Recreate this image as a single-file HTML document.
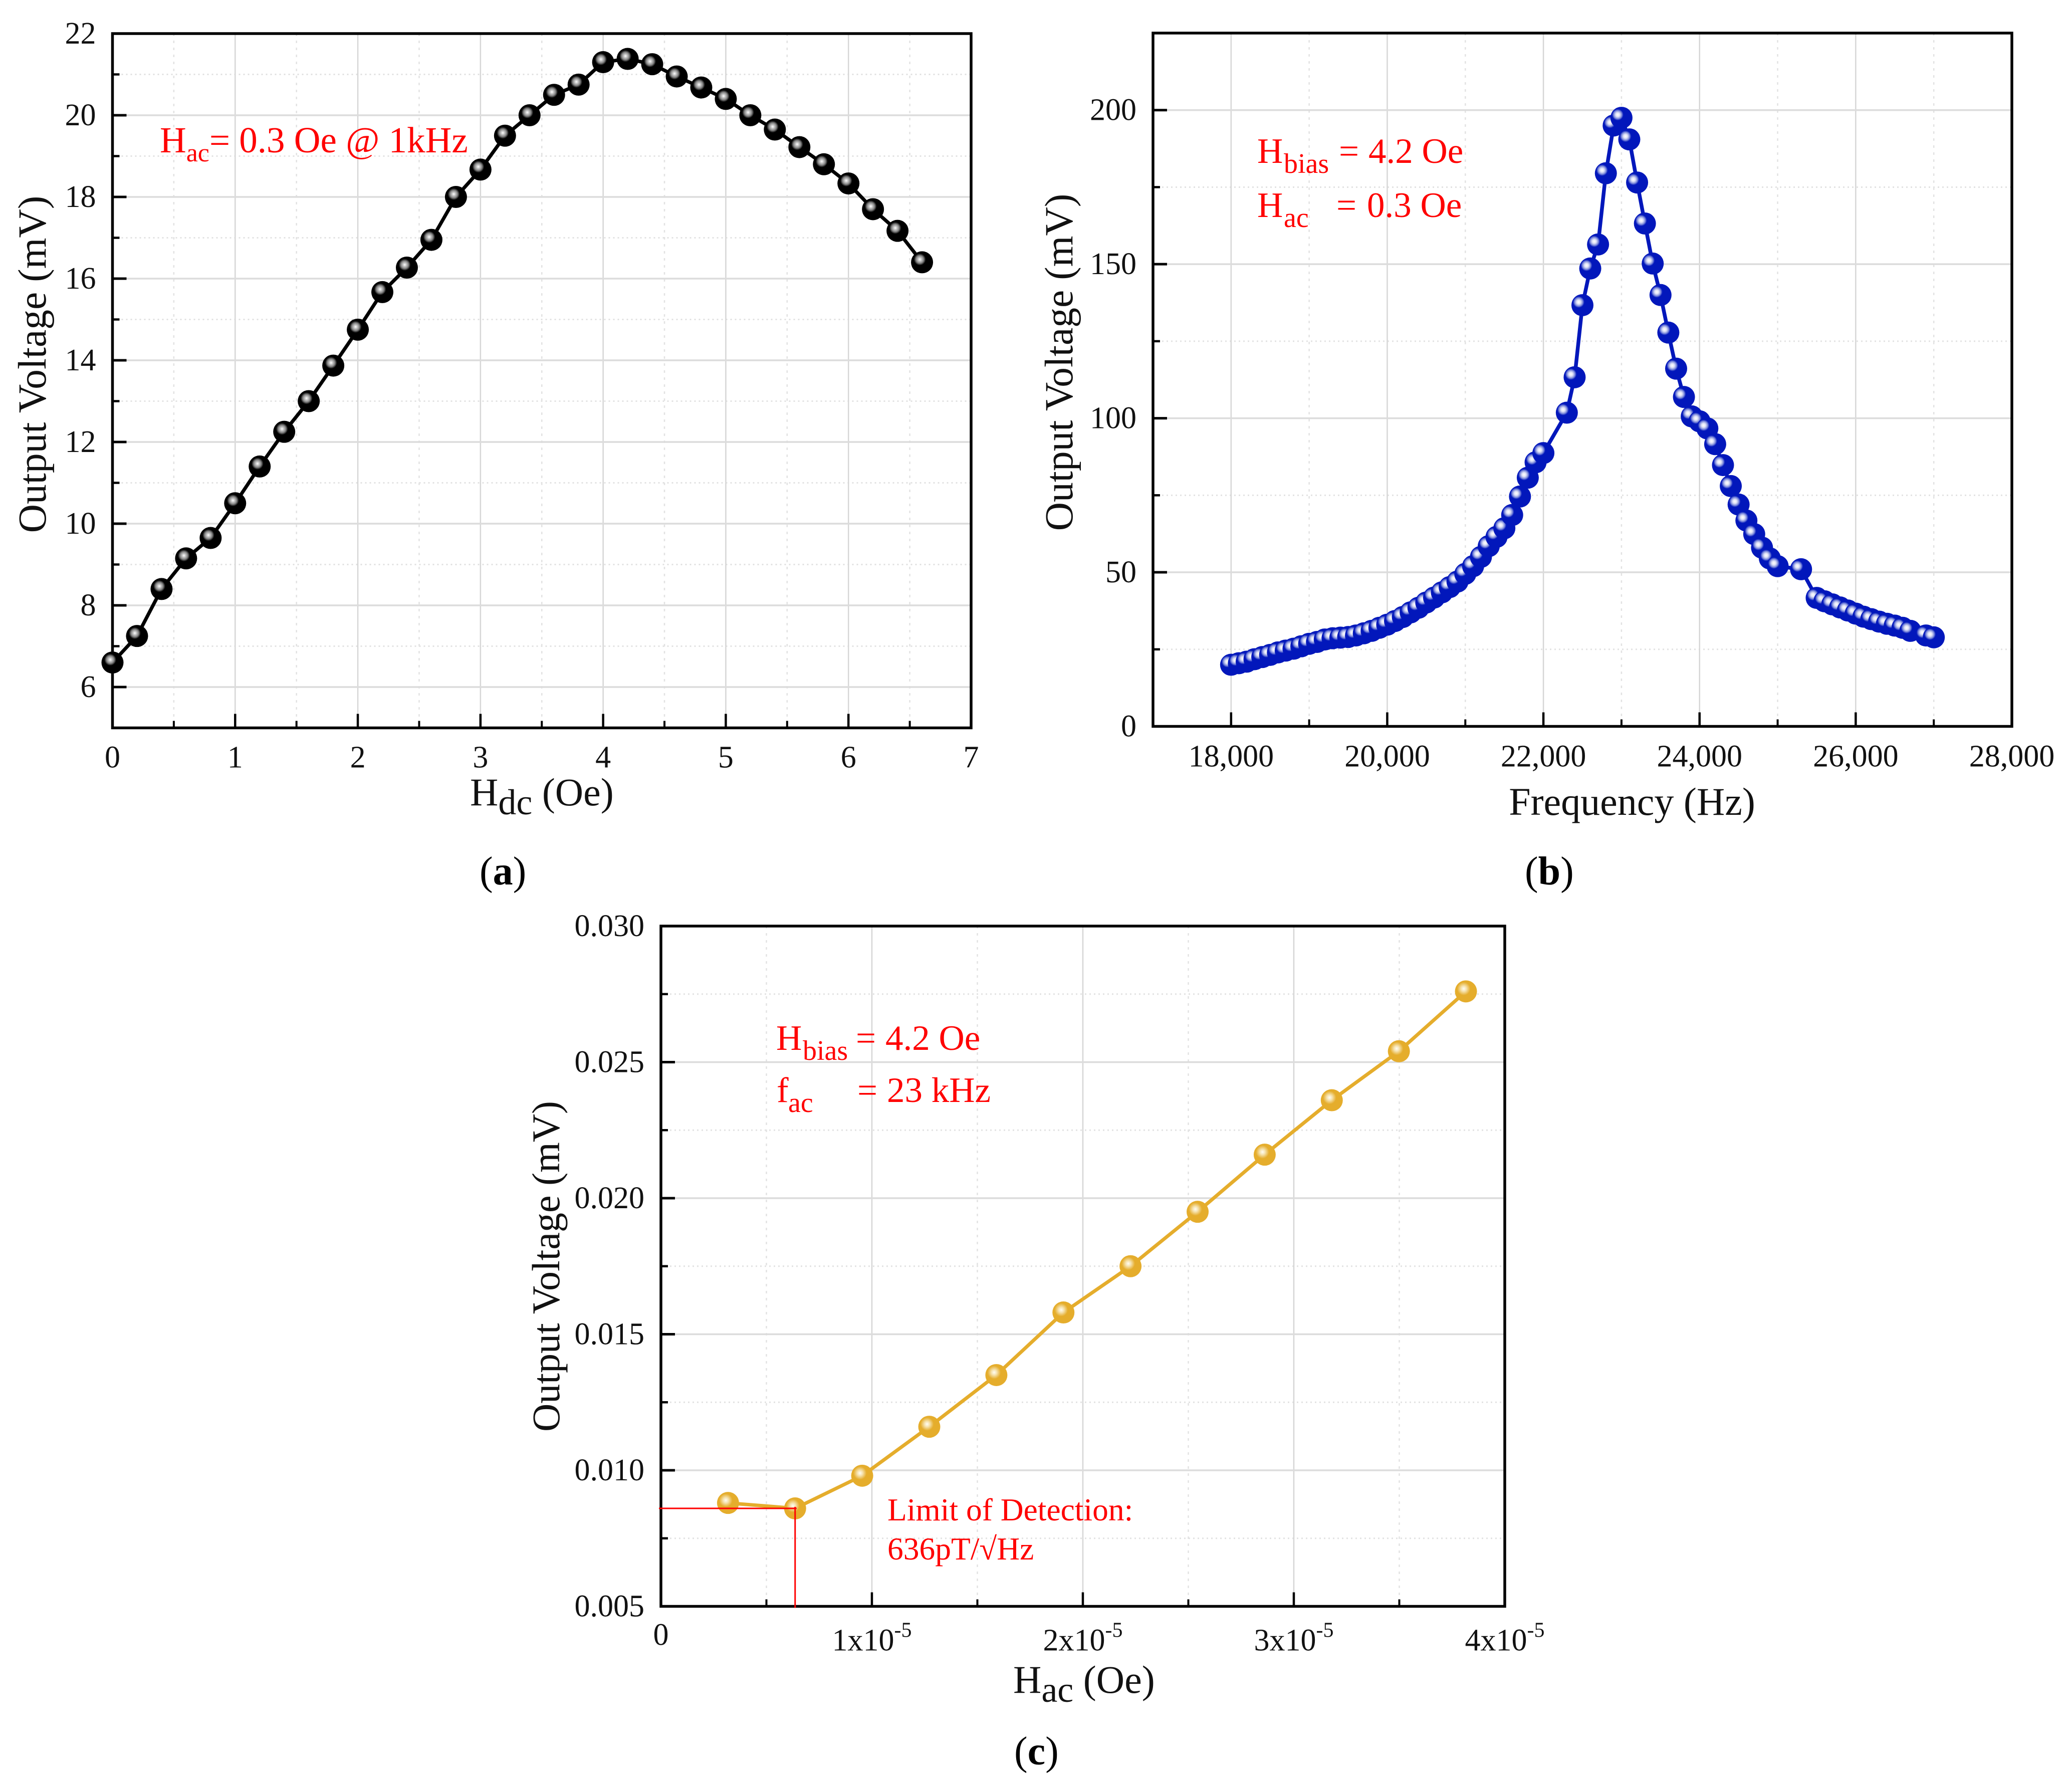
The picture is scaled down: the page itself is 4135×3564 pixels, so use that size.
<!DOCTYPE html>
<html lang="en">
<head>
<meta charset="utf-8">
<title>Output voltage characterisation charts</title>
<style>
html,body{margin:0;padding:0;background:#fff;width:4135px;height:3564px;overflow:hidden}
svg{display:block}
text{font-family:"Liberation Serif","Noto Serif CJK SC",serif}
.title{font-size:78px;fill:#111}
.ytitle{font-size:79.5px;fill:#111}
.sub{font-size:72px}
.note{font-size:71px;fill:#ff0000}
.nsub{font-size:56px}
.plabel{font-size:80px;fill:#000}
</style>
</head>
<body>
<svg id="figure" xmlns="http://www.w3.org/2000/svg" width="4135" height="3564" viewBox="0 0 4135 3564">
  <defs>
    <radialGradient id="ball-black" cx="0.4" cy="0.37" r="0.27">
      <stop offset="0" stop-color="#ffffff"/>
      <stop offset="0.3" stop-color="#c4c4c4"/>
      <stop offset="0.65" stop-color="#808080"/>
      <stop offset="1" stop-color="#000000"/>
    </radialGradient>
    <radialGradient id="ball-blue" cx="0.33" cy="0.36" r="0.26">
      <stop offset="0" stop-color="#ffffff"/>
      <stop offset="0.35" stop-color="#dfe2f6"/>
      <stop offset="0.7" stop-color="#7f8cdc"/>
      <stop offset="1" stop-color="#0217bb"/>
    </radialGradient>
    <radialGradient id="ball-gold" cx="0.4" cy="0.38" r="0.3">
      <stop offset="0" stop-color="#fffdf4"/>
      <stop offset="0.4" stop-color="#f6e3b0"/>
      <stop offset="1" stop-color="#e5ad2c"/>
    </radialGradient>
  </defs>

  <g id="panel-a">
    <g id="a-grid"></g>
    <g id="a-axes"></g>
    <g id="a-marks"></g>
    <text class="ytitle" text-anchor="middle" transform="translate(91 727) rotate(-90)">Output Voltage (mV)</text>
    <text class="title" x="938" y="1607">H<tspan class="sub" dy="18">dc</tspan><tspan dy="-18"> (Oe)</tspan></text>
    <text class="note" x="319" y="304" style="font-size:73px">H<tspan style="font-size:52px" dy="18">ac</tspan><tspan dy="-18">= 0.3 Oe @ 1kHz</tspan></text>
    <text class="plabel" x="957" y="1765">(<tspan font-weight="bold">a</tspan>)</text>
  </g>

  <g id="panel-b">
    <g id="b-grid"></g>
    <g id="b-axes"></g>
    <g id="b-marks"></g>
    <text class="ytitle" text-anchor="middle" transform="translate(2140 723) rotate(-90)">Output Voltage (mV)</text>
    <text class="title" text-anchor="middle" x="3257" y="1626">Frequency (Hz)</text>
    <text class="note" y="325"><tspan x="2509">H</tspan><tspan class="nsub" x="2562" dy="20">bias</tspan><tspan x="2672" dy="-20">=</tspan><tspan x="2731">4.2 Oe</tspan></text>
    <text class="note" y="433"><tspan x="2509">H</tspan><tspan class="nsub" x="2562" dy="20">ac</tspan><tspan x="2667" dy="-20">=</tspan><tspan x="2728">0.3 Oe</tspan></text>
    <text class="plabel" x="3043" y="1765">(<tspan font-weight="bold">b</tspan>)</text>
  </g>

  <g id="panel-c">
    <g id="c-grid"></g>
    <g id="c-axes"></g>
    <g id="c-marks"></g>
    <g id="c-limit"></g>
    <text class="title" text-anchor="middle" transform="translate(1116 2527) rotate(-90)">Output Voltage (mV)</text>
    <text class="title" x="2022" y="3378">H<tspan class="sub" dy="18">ac</tspan><tspan dy="-18"> (Oe)</tspan></text>
    <text class="note" y="2095"><tspan x="1549">H</tspan><tspan class="nsub" x="1602" dy="20">bias</tspan><tspan x="1708" dy="-20">=</tspan><tspan x="1767">4.2 Oe</tspan></text>
    <text class="note" y="2199"><tspan x="1550">f</tspan><tspan class="nsub" x="1573" dy="20">ac</tspan><tspan x="1711" dy="-20">=</tspan><tspan x="1770">23 kHz</tspan></text>
    <text x="1771" y="3034" fill="#ff0000" style="font-size:63.5px">Limit of Detection:</text>
    <text x="1771" y="3112" fill="#ff0000" style="font-size:63.5px">636pT/√Hz</text>
    <text class="plabel" x="2024" y="3521">(<tspan font-weight="bold">c</tspan>)</text>
  </g>
</svg>

<script>
// Panel (a): output voltage vs DC bias
const aField = [0,0.2,0.4,0.6,0.8,1,1.2,1.4,1.6,1.8,2,2.2,2.4,2.6,2.8,3,3.2,3.4,3.6,3.8,4,4.2,4.4,4.6,4.8,5,5.2,5.4,5.6,5.8,6,6.2,6.4,6.6];
const aVoltage = [6.6,7.25,8.4,9.15,9.65,10.5,11.4,12.25,13,13.87,14.75,15.67,16.27,16.95,18,18.67,19.5,20,20.5,20.75,21.3,21.38,21.25,20.95,20.68,20.4,20,19.65,19.22,18.8,18.33,17.7,17.17,16.4];
const aXTicks = [0,1,2,3,4,5,6,7];
const aXMinor = [0.5,1.5,2.5,3.5,4.5,5.5,6.5];
const aYTicks = [6,8,10,12,14,16,18,20,22];
const aYMinor = [7,9,11,13,15,17,19,21];

// Panel (b): output voltage vs frequency
const bFreq = [18000,18100,18200,18300,18400,18500,18600,18700,18800,18900,19000,19100,19200,19300,19400,19500,19600,19700,19800,19900,20000,20100,20200,20300,20400,20500,20600,20700,20800,20900,21000,21100,21200,21300,21400,21500,21600,21700,21800,21900,22000,22300,22400,22500,22600,22700,22800,22900,23000,23100,23200,23300,23400,23500,23600,23700,23800,23900,24000,24100,24200,24300,24400,24500,24600,24700,24800,24900,25000,25300,25500,25600,25700,25800,25900,26000,26100,26200,26300,26400,26500,26600,26700,26900,27000];
const bVoltage = [20,20.5,21,21.8,22.5,23.2,24,24.6,25.2,26,26.8,27.4,28.2,28.6,28.8,29,29.5,30.2,31,32,33,34.2,35.5,37,38.5,40.2,41.8,43.5,45.2,47,49.5,52,55,58.5,61.5,64.3,68.6,74.6,80.7,85.7,88.7,101.8,113.3,136.7,148.6,156.4,179.5,195,197.5,190.5,176.5,163.2,150.2,140,127.8,116.1,106.9,100.6,99,96.7,91.6,84.8,78,72,66.8,62.4,58,54.5,52,51,41.7,40.6,39.6,38.6,37.6,36.6,35.6,34.8,34,33.3,32.7,32,31,29.5,28.9];
const bXTicks = [18000,20000,22000,24000,26000,28000];
const bXMinor = [19000,21000,23000,25000,27000];
const bYTicks = [0,50,100,150,200];
const bYMinor = [25,75,125,175];

// Panel (c): output voltage vs AC field
const cField = [0.318e-5,0.636e-5,0.954e-5,1.272e-5,1.59e-5,1.908e-5,2.226e-5,2.544e-5,2.862e-5,3.18e-5,3.498e-5,3.816e-5];
const cVoltage = [0.0088,0.0086,0.0098,0.0116,0.0135,0.0158,0.0175,0.0195,0.0216,0.0236,0.0254,0.0276];
const cXTicks = [0,1e-5,2e-5,3e-5,4e-5];
const cXLabels = ["0","1x10","2x10","3x10","4x10"];
const cXMinor = [0.5e-5,1.5e-5,2.5e-5,3.5e-5];
const cYTicks = [0.005,0.01,0.015,0.02,0.025,0.03];
const cYLabels = ["0.005","0.010","0.015","0.020","0.025","0.030"];
const cYMinor = [0.0075,0.0125,0.0175,0.0225,0.0275];
const cLimit = [0.636e-5,0.0086];

const NS = 'http://www.w3.org/2000/svg';

function make(tag, attrs, parent) {
  const el = document.createElementNS(NS, tag);
  for (const k in attrs) el.setAttribute(k, attrs[k]);
  parent.appendChild(el);
  return el;
}
function linear(d0, d1, r0, r1) {
  return function (v) { return r0 + (v - d0) * (r1 - r0) / (d1 - d0); };
}

function drawPanel(p) {
  const grid = document.getElementById(p.id + '-grid');
  const axes = document.getElementById(p.id + '-axes');
  const marks = document.getElementById(p.id + '-marks');
  const sx = linear(p.xMin, p.xMax, p.left, p.right);
  const sy = linear(p.yMin, p.yMax, p.bottom, p.top);

  p.xMinor.forEach(function (v) {
    const el = make('line', {x1: sx(v), x2: sx(v), y1: p.top, y2: p.bottom, stroke: '#e2e2e2', 'stroke-width': 2.5, 'stroke-dasharray': '5 9'}, grid);
    
    
  });
  p.yMinor.forEach(function (v) {
    const el = make('line', {x1: p.left, x2: p.right, y1: sy(v), y2: sy(v), stroke: '#e2e2e2', 'stroke-width': 3, 'stroke-dasharray': '3 6'}, grid);
    
    
  });
  p.xTicks.forEach(function (v) {
    const el = make('line', {x1: sx(v), x2: sx(v), y1: p.top, y2: p.bottom, stroke: '#d6d6d6', 'stroke-width': 2.5}, grid);
    
    
  });
  p.yTicks.forEach(function (v) {
    const el = make('line', {x1: p.left, x2: p.right, y1: sy(v), y2: sy(v), stroke: '#dcdcdc', 'stroke-width': 3.5}, grid);
    
    
  });

  const frame = make('rect', {x: p.left, y: p.top, width: p.right - p.left, height: p.bottom - p.top, fill: 'none', stroke: '#000', 'stroke-width': 5.5}, axes);
  
  

  p.xTicks.forEach(function (v, i) {
    const tick = make('line', {x1: sx(v), x2: sx(v), y1: p.bottom, y2: p.bottom - 28, stroke: '#000', 'stroke-width': 4.5}, axes);
    
    
    const label = make('text', {x: sx(v), y: p.bottom + ((p.sup && i > 0) ? 88 : p.xLabelDrop), 'text-anchor': 'middle', 'font-size': 62, fill: '#111'}, axes);
    
    
    label.textContent = p.xLabels ? p.xLabels[i] : p.xFormat(v);
    if (p.sup && i > 0) {
      const s = make('tspan', {dy: -27, 'font-size': 42}, label);
      s.textContent = p.sup;
    }
  });
  p.xMinor.forEach(function (v) {
    const tick = make('line', {x1: sx(v), x2: sx(v), y1: p.bottom, y2: p.bottom - 14, stroke: '#000', 'stroke-width': 4}, axes);
    
    
  });
  p.yTicks.forEach(function (v, i) {
    const tick = make('line', {x1: p.left, x2: p.left + 28, y1: sy(v), y2: sy(v), stroke: '#000', 'stroke-width': 5}, axes);
    
    
    const label = make('text', {x: p.left - 33, y: sy(v) + 20, 'text-anchor': 'end', 'font-size': 62, fill: '#111'}, axes);
    
    
    label.textContent = p.yLabels ? p.yLabels[i] : String(v);
  });
  p.yMinor.forEach(function (v) {
    const tick = make('line', {x1: p.left, x2: p.left + 14, y1: sy(v), y2: sy(v), stroke: '#000', 'stroke-width': 4.5}, axes);
    
    
  });

  const pts = p.xs.map(function (x, i) { return sx(x).toFixed(1) + ',' + sy(p.ys[i]).toFixed(1); }).join(' ');
  const line = make('polyline', {points: pts, fill: 'none', stroke: p.color, 'stroke-width': p.lineWidth, 'stroke-linejoin': 'round'}, marks);
  
  
  p.xs.forEach(function (x, i) {
    const dot = make('circle', {cx: sx(x), cy: sy(p.ys[i]), r: p.radius, fill: 'url(#' + p.gradient + ')'}, marks);
    
    
  });
  return {sx: sx, sy: sy};
}

drawPanel({
  id: 'a', left: 224.5, right: 1938, top: 67, bottom: 1452.5,
  xMin: 0, xMax: 7, yMin: 5, yMax: 22,
  xTicks: aXTicks, xMinor: aXMinor, yTicks: aYTicks, yMinor: aYMinor,
  xFormat: String, xLabelDrop: 79,
  xs: aField, ys: aVoltage, color: '#000', lineWidth: 7, radius: 22, gradient: 'ball-black'
});

drawPanel({
  id: 'b', left: 2301, right: 4015, top: 66, bottom: 1449.5,
  xMin: 17000, xMax: 28000, yMin: 0, yMax: 225,
  xTicks: bXTicks, xMinor: bXMinor, yTicks: bYTicks, yMinor: bYMinor,
  xFormat: function (v) { return v.toLocaleString('en-US'); }, xLabelDrop: 80,
  xs: bFreq, ys: bVoltage, color: '#0217bb', lineWidth: 7.5, radius: 22, gradient: 'ball-blue'
});

const cScales = drawPanel({
  id: 'c', left: 1319, right: 3003, top: 1848, bottom: 3205.5,
  xMin: 0, xMax: 4e-5, yMin: 0.005, yMax: 0.03,
  xTicks: cXTicks, xLabels: cXLabels, xMinor: cXMinor, yTicks: cYTicks, yLabels: cYLabels, yMinor: cYMinor,
  xLabelDrop: 77, sup: '-5',
  xs: cField, ys: cVoltage, color: '#e5ad2c', lineWidth: 7, radius: 22, gradient: 'ball-gold'
});

const limitGroup = document.getElementById('c-limit');
const limitH = make('line', {x1: cScales.sx(0) - 4, x2: cScales.sx(cLimit[0]) + 3, y1: cScales.sy(cLimit[1]), y2: cScales.sy(cLimit[1]), stroke: '#ff0000', 'stroke-width': 3}, limitGroup);


const limitV = make('line', {x1: cScales.sx(cLimit[0]), x2: cScales.sx(cLimit[0]), y1: cScales.sy(cLimit[1]) - 3, y2: cScales.sy(0.005) + 3, stroke: '#ff0000', 'stroke-width': 3}, limitGroup);


</script>
</body>
</html>
